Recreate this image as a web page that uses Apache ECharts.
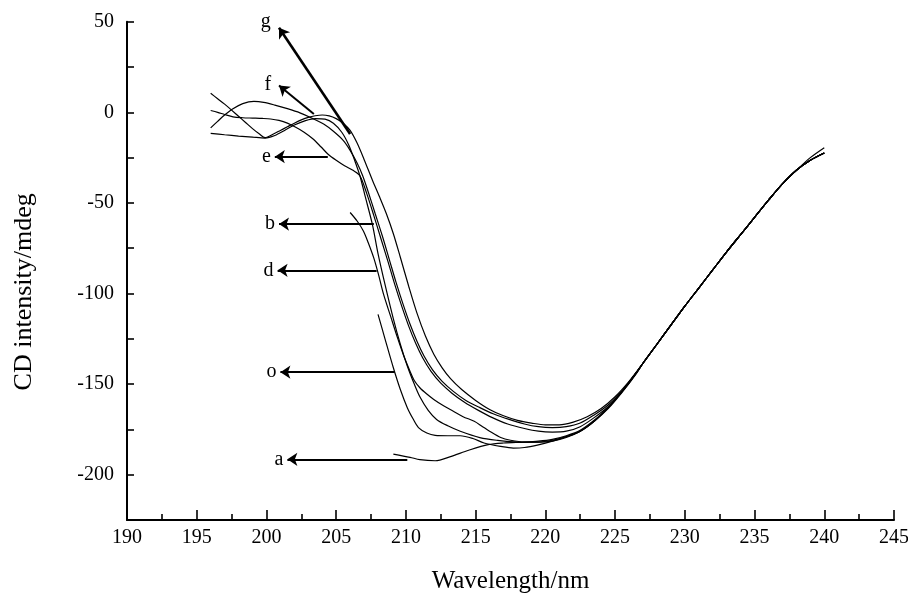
<!DOCTYPE html>
<html lang="en">
<head>
    <meta charset="UTF-8">
    <title>CD spectra</title>
    <style>
        html, body { margin: 0; padding: 0; background: #fff; }
        #chart { width: 908px; height: 599px; }
    </style>
</head>
<body>
<div id="chart"></div>
<script src="https://cdn.jsdelivr.net/npm/echarts@6.0.0/dist/echarts.min.js"></script>
<script>
    // curves, [wavelength nm, CD mdeg]
    var curveG = [[196, 10.5], [196.5, 7.5], [197, 4.5], [197.5, 1.2], [198, -2.2], [198.5, -5.6], [199, -9], [199.5, -12],
        [199.9, -14], [200.5, -12], [201, -10], [201.5, -8], [202, -6], [202.5, -4.2], [203, -2.8], [203.5, -1.9], [204, -1.5],
        [204.5, -2], [205, -3.5], [205.5, -6], [206, -10], [206.5, -17], [207, -26], [207.6, -37.5], [208.1, -46.5], [208.6, -56],
        [209.1, -67], [209.6, -80], [210.2, -96], [210.8, -111], [211.4, -123.5], [212, -133.5], [212.6, -141], [213.2, -147],
        [214, -153], [215, -159], [216, -164], [217, -167.5], [218, -170], [219, -171.5], [220, -172.5], [221, -172.5],
        [222, -171], [223, -168], [224, -163.5], [225, -157], [226, -148.5]];
    var curveF = [[196, -8.6], [196.5, -5], [197, -1.5], [197.6, 2], [198.3, 4.8], [199.1, 6], [199.8, 5.5], [200.6, 4],
        [201.5, 2], [202.4, -0.3], [203.2, -3], [204.1, -6.5], [204.8, -10.5], [205.5, -15.5], [206, -21], [206.5, -28],
        [206.9, -35], [207.3, -44], [207.8, -56], [208.3, -68], [208.8, -81], [209.3, -94], [209.8, -106], [210.3, -117],
        [210.8, -126.5], [211.3, -134.5], [211.9, -142], [212.6, -148.5], [213.4, -154], [214.3, -159], [215.3, -163],
        [216.3, -166.5], [217.4, -169.5], [218.5, -172], [219.5, -173.5], [220.5, -174], [221.5, -173.5], [222.5, -171.5],
        [223.5, -167], [224.5, -161.5], [225.3, -155.5], [226, -149]];
    var curveE = [[196, 1], [196.5, 0], [197, -1.2], [197.6, -2.5], [198.3, -3], [199, -3.2], [199.7, -3.4], [200.3, -3.7],
        [200.9, -4.5], [201.5, -6], [202.1, -8.3], [202.7, -11], [203.3, -14.5], [203.9, -19], [204.4, -23], [205, -26.5],
        [205.6, -29.5], [206.2, -32], [206.7, -35], [207.2, -45], [207.7, -57], [208.2, -69.5], [208.7, -82], [209.2, -95],
        [209.7, -107], [210.2, -118], [210.7, -127.5], [211.2, -135.5], [211.8, -143], [212.5, -149.5], [213.3, -155],
        [214.2, -160], [215.2, -164.5], [216.2, -168.5], [217.3, -172], [218.5, -174.5], [219.5, -176], [220.5, -176.5],
        [221.5, -176], [222.5, -173.5], [223.5, -168.5], [224.5, -162.5], [225.3, -156], [226, -149.5]];
    var curveB = [[196, -11.6], [197, -12.4], [198, -13.1], [199, -13.7], [199.9, -14.2], [200.6, -12.8], [201.3, -10],
        [202, -7], [202.8, -4.6], [203.5, -3.5], [204.2, -3.8], [204.8, -6], [205.4, -11], [205.9, -18], [206.3, -26],
        [206.7, -35], [207.1, -47], [207.6, -62], [208, -78], [208.5, -95], [209.1, -114], [209.6, -128], [210.1, -140],
        [210.6, -150], [211, -157], [211.6, -164.5], [212.2, -169.5], [213, -173], [213.9, -176], [215.3, -179.5],
        [216.5, -181], [218, -182], [219.5, -182], [220.5, -181], [221.5, -179], [222.5, -176], [223.5, -170.5],
        [224.5, -163], [225.5, -154], [226.5, -144]];
    var curveD = [[206, -55.3], [206.5, -60], [206.95, -65.5], [207.3, -72], [207.7, -80.5], [208.05, -90], [208.4, -100.5],
        [208.9, -112.5], [209.4, -124.5], [209.85, -134.5], [210.3, -143], [210.6, -148], [211, -152], [211.5, -155.5],
        [212, -158.5], [212.7, -162], [213.4, -165], [214.1, -168], [214.9, -170.5], [215.5, -173.5], [216, -176],
        [216.8, -179.5], [217.5, -181], [218.5, -182], [219.5, -182], [220.5, -181.5], [221.5, -179.5], [222.5, -176],
        [223.5, -170.5], [224.5, -163], [225.5, -154], [226.5, -144]];
    var curveO = [[208, -111.5], [208.5, -125], [209.1, -141], [209.6, -153], [210.1, -163], [210.5, -169], [210.9, -174],
        [211.5, -177], [212.1, -178.3], [213, -178.5], [213.9, -178.5], [214.8, -180], [215.6, -182.5], [216.8, -184.4],
        [217.7, -185.3], [218.5, -185], [219.5, -183.5], [220.5, -181.5], [221.5, -179], [222.5, -176], [223.5, -170.5],
        [224.5, -163.5], [225.5, -154.5], [226.5, -144.5]];
    var curveA = [[209.1, -188.6], [210.3, -190.4], [211, -191.7], [212.1, -192.3], [213.2, -190], [214.5, -186.5],
        [215.9, -183.4], [217, -182.5], [218.5, -182], [219.5, -181.5], [220.5, -180.5], [221.5, -178.5], [222.5, -175.5],
        [223.5, -170], [224.5, -163], [225.5, -154], [226.5, -144]];
    // common rising part, all spectra coincide here
    var tail = [[227, -138.5], [228, -128], [229, -117.5], [230, -107], [231, -97], [232, -87], [233, -77], [234, -67.5],
        [235, -58], [236, -48.5], [237, -39.5], [238, -32], [239, -26.5], [240, -22.5]];
    var tailUpperEnd = [[239, -25], [240, -19.5]];

    // arrows: label, point on curve, arrow tip
    var arrowNames = ['g', 'f', 'e', 'b', 'd', 'o', 'a'];
    var arrowFrom = [[206, -12], [203.4, -0.9], [204.4, -24.5], [207.7, -61.7], [207.9, -87.2], [209.2, -143.4], [210.1, -191.5]];
    var arrowTo = [[200.9, 46.7], [200.9, 14.8], [200.6, -24.5], [200.9, -61.7], [200.8, -87.2], [201.0, -143.4], [201.5, -191.5]];

    var xTicks = [190, 245, 5];
    var yTicks = [-225, 50, 25];

    var serif = 'Liberation Serif';
    var chart = echarts.init(document.getElementById('chart'));

    function makeLine(name, pts, end) {
        return {
            name: name,
            type: 'line',
            data: pts.concat(end),
            showSymbol: false,
            smooth: 0.3,
            lineStyle: {color: '#000', width: 1.2},
            silent: true,
            z: 2
        };
    }

    var upperTail = tail.slice(0, tail.length - 2).concat(tailUpperEnd);
    var series = [
        makeLine('g', curveG, tail),
        makeLine('f', curveF, tail),
        makeLine('e', curveE, upperTail),
        makeLine('b', curveB, tail),
        makeLine('d', curveD, tail),
        makeLine('o', curveO, tail),
        makeLine('a', curveA, tail)
    ];

    // the slanted arrows have their letter to the left of the tip
    var labelShift = {g: [-11, 7], f: [-8, 2]};
    var arrowData = [];
    for (var i = 0; i < arrowNames.length; i++) {
        var item = {
            name: arrowNames[i],
            coords: [arrowFrom[i], arrowTo[i]],
            lineStyle: {width: arrowNames[i] === 'g' ? 2.6 : 2}
        };
        if (labelShift[arrowNames[i]]) {
            item.label = {offset: labelShift[arrowNames[i]]};
        }
        arrowData.push(item);
    }
    series.push({
        type: 'lines',
        coordinateSystem: 'cartesian2d',
        clip: false,
        symbol: ['none', 'arrow'],
        symbolSize: 10,
        lineStyle: {color: '#000', width: 2, opacity: 1},
        label: {
            show: true,
            position: 'end',
            formatter: '{b}',
            distance: 4,
            color: '#000',
            fontFamily: serif,
            fontSize: 20
        },
        data: arrowData,
        z: 3
    });

    chart.setOption({
        animation: false,
        backgroundColor: '#fff',
        grid: {left: 127, right: 14, top: 21.7, bottom: 79, outerBoundsMode: 'none'},
        xAxis: {
            type: 'value',
            min: xTicks[0],
            max: xTicks[1],
            interval: xTicks[2],
            name: 'Wavelength/nm',
            nameLocation: 'middle',
            nameGap: 49,
            nameTextStyle: {color: '#000', fontFamily: serif, fontSize: 25},
            axisLine: {onZero: false, lineStyle: {color: '#000', width: 2}},
            axisTick: {inside: true, length: 10, lineStyle: {color: '#000', width: 1.6}},
            minorTick: {show: true, splitNumber: 2, length: 6, lineStyle: {color: '#000', width: 1.6}},
            splitLine: {show: false},
            axisLabel: {color: '#000', fontFamily: serif, fontSize: 20, margin: 8}
        },
        yAxis: {
            type: 'value',
            min: yTicks[0],
            max: yTicks[1],
            interval: yTicks[2],
            name: 'CD intensity/mdeg',
            nameLocation: 'middle',
            nameRotate: 90,
            nameGap: 90,
            nameTextStyle: {color: '#000', fontFamily: serif, fontSize: 26, padding: [0, 42, 0, 0]},
            axisLine: {onZero: false, lineStyle: {color: '#000', width: 2}},
            axisTick: {inside: true, length: 7, lineStyle: {color: '#000', width: 1.6}},
            splitLine: {show: false},
            axisLabel: {
                color: '#000', fontFamily: serif, fontSize: 20, margin: 13,
                formatter: function (v) {
                    return v % 50 === 0 ? String(v) : '';
                }
            }
        },
        series: series
    });
</script>
</body>
</html>
